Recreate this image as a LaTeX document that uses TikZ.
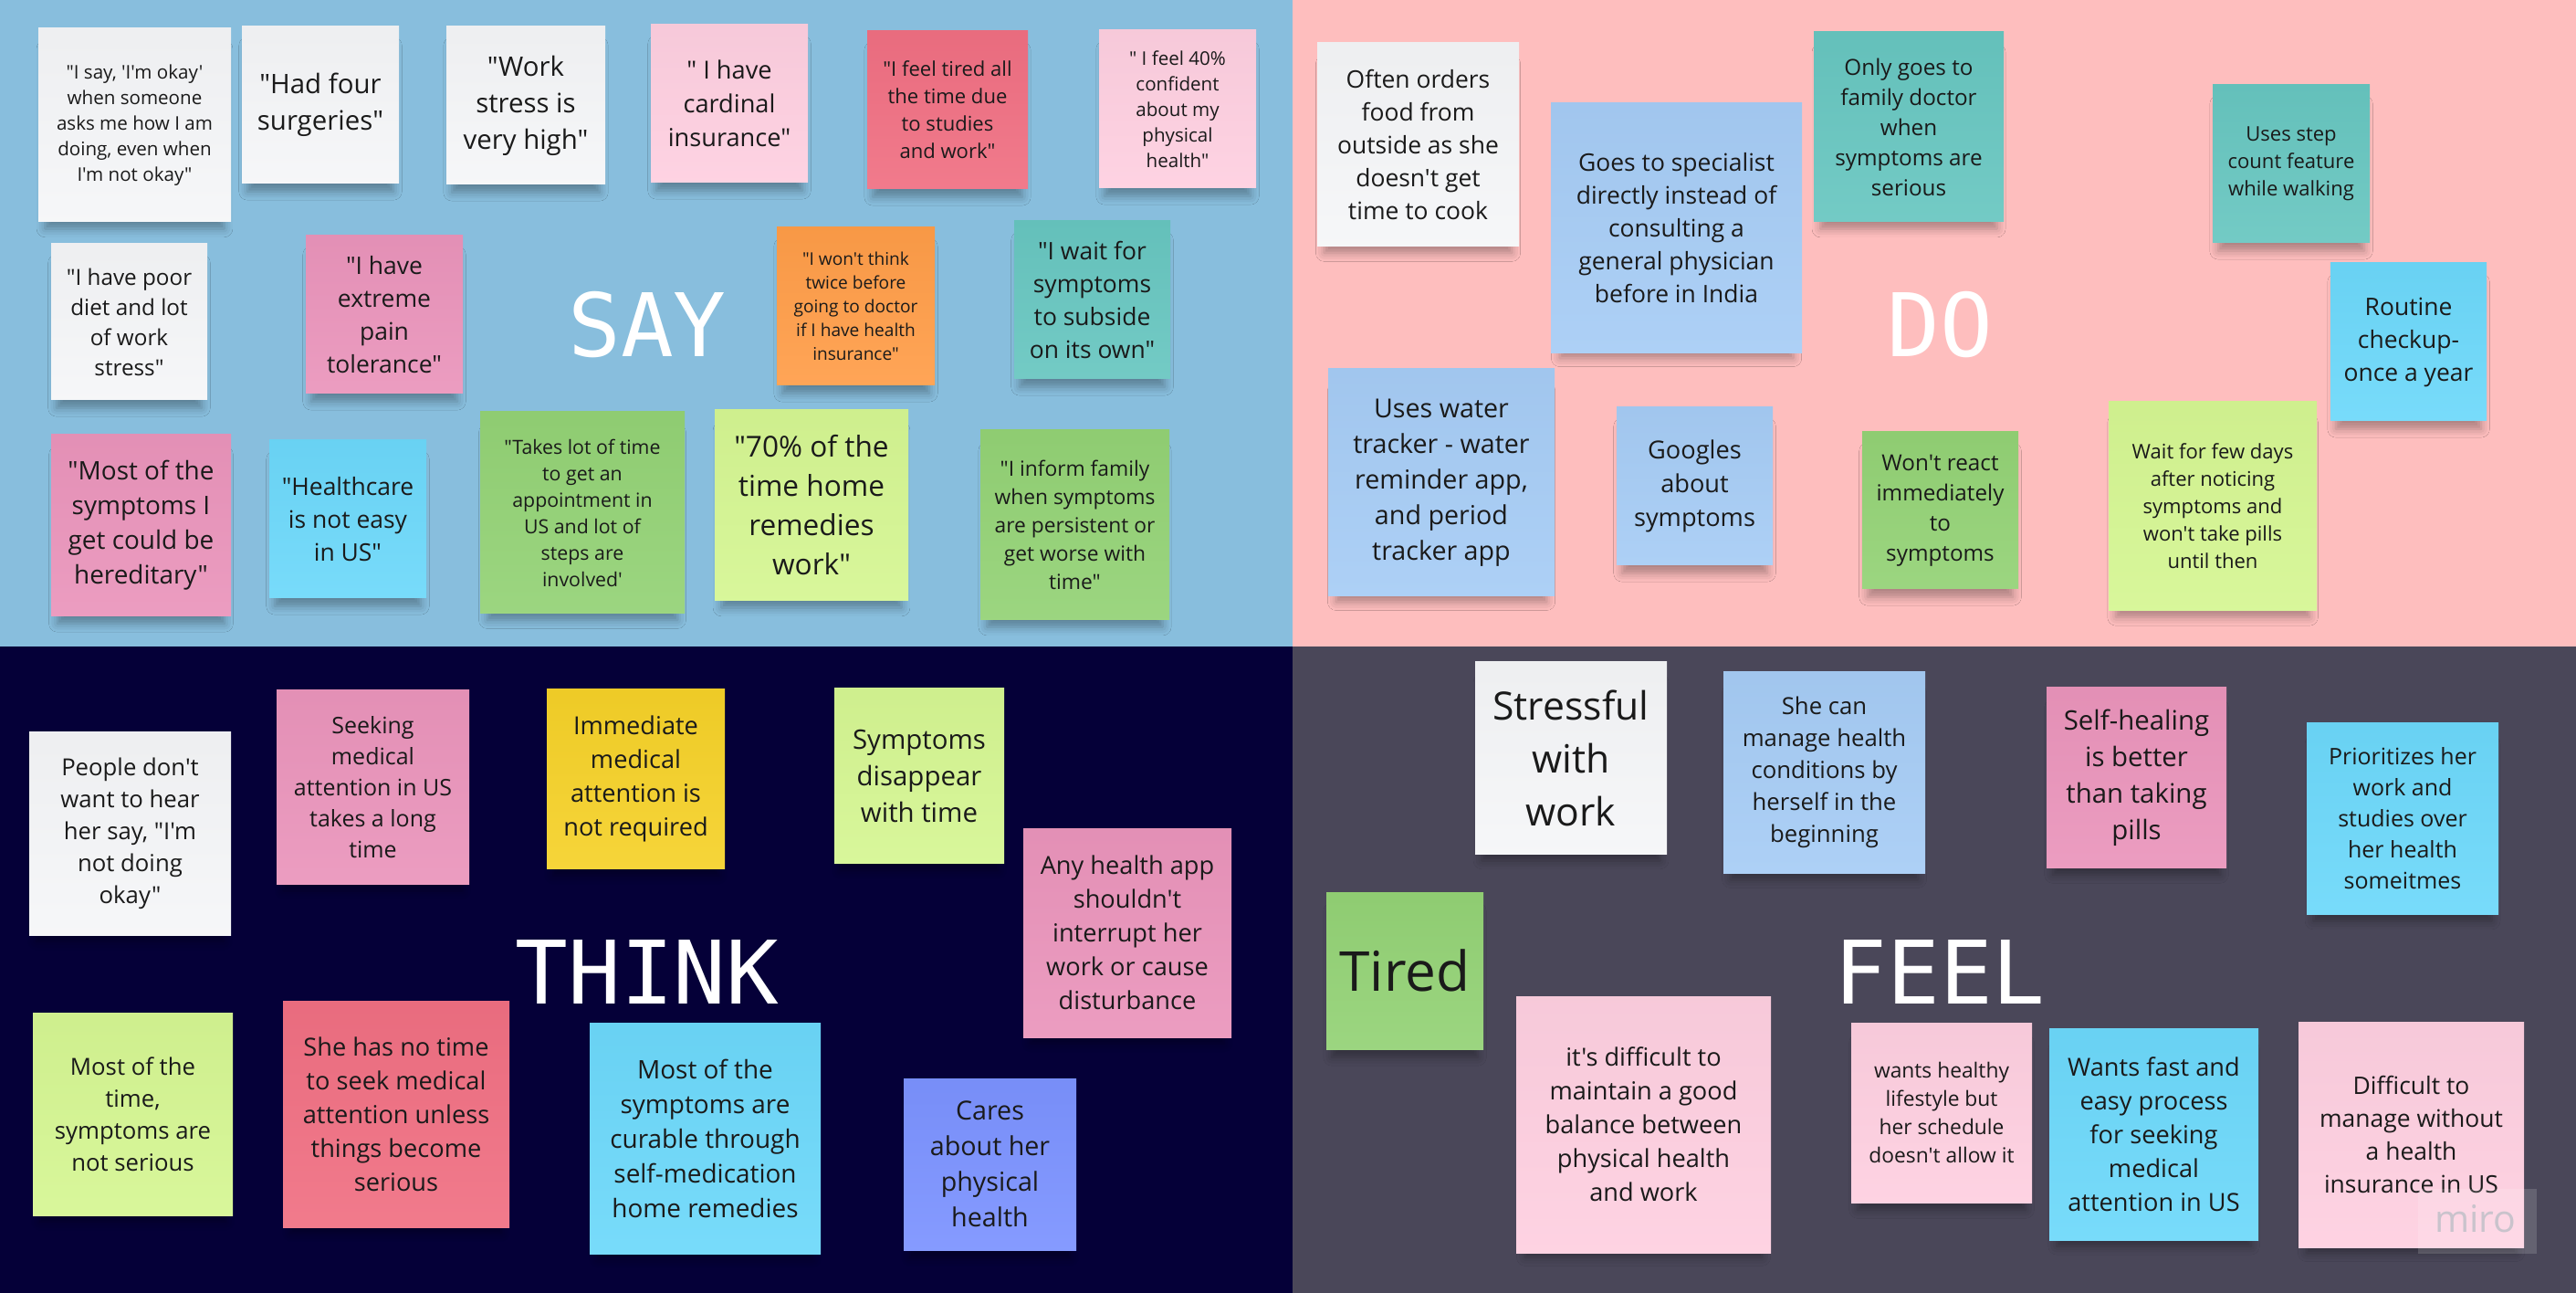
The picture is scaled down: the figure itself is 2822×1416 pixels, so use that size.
\documentclass[tikz,border=0pt]{standalone}
\usepackage{fontspec}
\newfontfamily\notefont{Open Sans}[Ligatures=TeXOff]
\newfontfamily\titlefont{DejaVu Sans Mono}
\usetikzlibrary{shadows.blur}

\definecolor{bgsay}{HTML}{88BEDD}
\definecolor{bgdo}{HTML}{FEBEBE}
\definecolor{bgthink}{HTML}{050038}
\definecolor{bgfeel}{HTML}{4A4759}
\definecolor{cwhite}{HTML}{F5F6F8}
\definecolor{clpink}{HTML}{FECFE0}
\definecolor{cred}{HTML}{F06F82}
\definecolor{cpink}{HTML}{EA94BB}
\definecolor{corange}{HTML}{FF9D48}
\definecolor{cteal}{HTML}{67C6C0}
\definecolor{clime}{HTML}{D5F692}
\definecolor{cgreen}{HTML}{93D275}
\definecolor{ccyan}{HTML}{6CD8FA}
\definecolor{clblue}{HTML}{A6CCF5}
\definecolor{cyellow}{HTML}{F5D128}
\definecolor{cviolet}{HTML}{7B92FF}
\definecolor{txt}{HTML}{1A1A1A}
\definecolor{wmgray}{HTML}{C9C3CC}

\newcommand\fsL[1]{\fontsize{\the\dimexpr0.3676pt*#1\relax}{\the\dimexpr0.5pt*#1\relax}\selectfont}

\tikzset{
  note/.style={draw=none, inner sep=0pt, align=center, text=txt,
    top color=#1!97!black, bottom color=#1!92!white,
    blur shadow={shadow xshift=0pt, shadow yshift=-8pt, shadow opacity=32,
      shadow scale=0.93, shadow blur radius=5pt}},
  ttl/.style={text=white, font=\titlefont\fontsize{48pt}{48pt}\selectfont,
    anchor=base, inner sep=0pt},
}

% name, colour, x1, y1, x2, y2, line height (px), text
\newcommand\stick[8]{%
  \node[note={#2}, minimum width={(#5-#3)*0.5pt}, minimum height={(#6-#4)*0.5pt},
    font={\notefont\fsL{#7}}] (#1) at ({(#3+#5)/2},{(#4+#6)/2}) {#8};}

\begin{document}
\begin{tikzpicture}[x=0.5pt, y=-0.5pt]
\useasboundingbox (0,0) rectangle (2822,1416);

% quadrants
\fill[bgsay]   (0,0) rectangle (1416,708);
\fill[bgdo]    (1416,0) rectangle (2822,708);
\fill[bgthink] (0,708) rectangle (1416,1416);
\fill[bgfeel]  (1416,708) rectangle (2822,1416);

% titles
\node[ttl] (say)   at (709,391)  {SAY};
\node[ttl] (do)    at (2125,391) {DO};
\node[ttl] (think) at (709,1099) {THINK};
\node[ttl] (feel)  at (2125,1099) {FEEL};

% ---------- SAY ----------
\stick{n1}{cwhite}{42}{31}{253}{243}{28}{"I say, 'I'm okay'\\when someone\\asks me how I am\\doing, even when\\I'm not okay"}
\stick{n2}{cwhite}{265}{29}{437}{201}{40}{"Had four\\surgeries"}
\stick{n3}{cwhite}{489}{29}{663}{202}{40}{"Work\\stress is\\very high"}
\stick{n4}{clpink}{713}{27}{885}{200}{37}{" I have\\cardinal\\insurance"}
\stick{n5}{cred}{950}{34}{1126}{207}{30}{"I feel tired all\\the time due\\to studies\\and work"}
\stick{n6}{clpink}{1204}{33}{1376}{206}{28}{" I feel 40\%\\confident\\about my\\physical\\health"}
\stick{n7}{cwhite}{56}{267}{227}{438}{33}{"I have poor\\diet and lot\\of work\\stress"}
\stick{n8}{cpink}{335}{258}{507}{431}{36}{"I have\\extreme\\pain\\tolerance"}
\stick{n9}{corange}{851}{249}{1024}{422}{26}{"I won't think\\twice before\\going to doctor\\if I have health\\insurance"}
\stick{n10}{cteal}{1111}{242}{1282}{415}{36}{"I wait for\\symptoms\\to subside\\on its own"}
\stick{n11}{cpink}{56}{476}{253}{675}{38}{"Most of the\\symptoms I\\get could be\\hereditary"}
\stick{n12}{ccyan}{295}{482}{467}{655}{36}{"Healthcare\\is not easy\\in US"}
\stick{n13}{cgreen}{526}{451}{750}{672}{29}{"Takes lot of time\\to get an\\appointment in\\US and lot of\\steps are\\involved'}
\stick{n14}{clime}{783}{449}{995}{658}{43}{"70\% of the\\time home\\remedies\\work"}
\stick{n15}{cgreen}{1074}{471}{1281}{679}{31}{"I inform family\\when symptoms\\are persistent or\\get worse with\\time"}

% ---------- DO ----------
\stick{n16}{cwhite}{1443}{47}{1664}{270}{36}{Often orders\\food from\\outside as she\\doesn't get\\time to cook}
\stick{n17}{clblue}{1699}{113}{1974}{387}{36}{Goes to specialist\\directly instead of\\consulting a\\general physician\\before in India}
\stick{n18}{cteal}{1987}{35}{2195}{243}{33}{Only goes to\\family doctor\\when\\symptoms are\\serious}
\stick{n19}{cteal}{2424}{93}{2596}{266}{30}{Uses step\\count feature\\while walking}
\stick{n20}{ccyan}{2553}{288}{2724}{461}{36}{Routine\\checkup-\\once a year}
\stick{n21}{clblue}{1455}{404}{1703}{653}{39}{Uses water\\tracker - water\\reminder app,\\and period\\tracker app}
\stick{n22}{clblue}{1771}{446}{1942}{619}{37}{Googles\\about\\symptoms}
\stick{n23}{cgreen}{2040}{473}{2211}{645}{33}{Won't react\\immediately\\to\\symptoms}
\stick{n24}{clime}{2310}{440}{2538}{669}{30}{Wait for few days\\after noticing\\symptoms and\\won't take pills\\until then}

% ---------- THINK ----------
\stick{n25}{cwhite}{32}{802}{253}{1024}{35}{People don't\\want to hear\\her say, "I'm\\not doing\\okay"}
\stick{n26}{cpink}{303}{756}{514}{968}{34}{Seeking\\medical\\attention in US\\takes a long\\time}
\stick{n27}{cyellow}{599}{755}{794}{951}{37}{Immediate\\medical\\attention is\\not required}
\stick{n28}{clime}{914}{754}{1100}{945}{40}{Symptoms\\disappear\\with time}
\stick{n29}{cpink}{1121}{907}{1349}{1136}{37}{Any health app\\shouldn't\\interrupt her\\work or cause\\disturbance}
\stick{n30}{clime}{36}{1109}{255}{1331}{35}{Most of the\\time,\\symptoms are\\not serious}
\stick{n31}{cred}{310}{1096}{558}{1344}{37}{She has no time\\to seek medical\\attention unless\\things become\\serious}
\stick{n32}{ccyan}{646}{1120}{899}{1373}{38}{Most of the\\symptoms are\\curable through\\self-medication\\home remedies}
\stick{n33}{cviolet}{990}{1181}{1179}{1369}{39}{Cares\\about her\\physical\\health}

% ---------- FEEL ----------
\stick{n34}{cwhite}{1616}{725}{1826}{935}{58}{Stressful\\with\\work}
\stick{n35}{clblue}{1888}{736}{2109}{956}{35}{She can\\manage health\\conditions by\\herself in the\\beginning}
\stick{n36}{cpink}{2242}{753}{2439}{950}{40}{Self-healing\\is better\\than taking\\pills}
\stick{n37}{ccyan}{2527}{792}{2737}{1001}{34}{Prioritizes her\\work and\\studies over\\her health\\someitmes}
\stick{n38}{cgreen}{1453}{977}{1625}{1149}{82}{Tired}
\stick{n39}{clpink}{1661}{1091}{1940}{1372}{37}{it's difficult to\\maintain a good\\balance between\\physical health\\and work}
\stick{n40}{clpink}{2028}{1120}{2226}{1317}{31}{wants healthy\\lifestyle but\\her schedule\\doesn't allow it}
\stick{n41}{ccyan}{2245}{1126}{2474}{1358}{37}{Wants fast and\\easy process\\for seeking\\medical\\attention in US}
\stick{n42}{clpink}{2518}{1119}{2765}{1366}{36}{Difficult to\\manage without\\a health\\insurance in US}

% watermark
\node[fill=white, fill opacity=0.15, inner sep=0pt, minimum width=65pt, minimum height=35.5pt] (wmbox) at (2714,1337) {};
\node[text=wmgray, font=\notefont\fontsize{20.5pt}{20.5pt}\selectfont, inner sep=0pt] (miro) at (2712,1335) {miro};
\end{tikzpicture}
\end{document}
